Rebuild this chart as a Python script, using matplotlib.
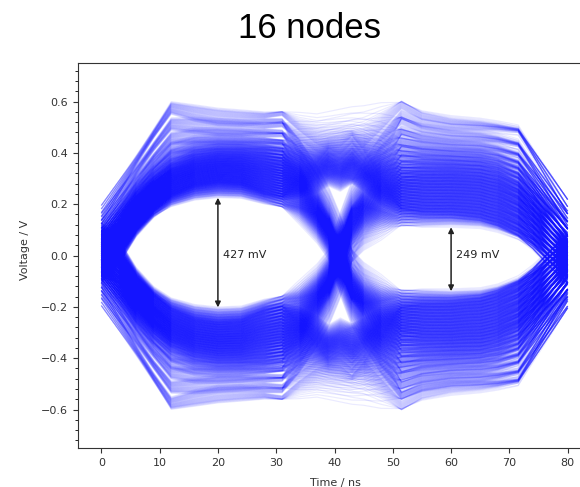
import numpy as np
import matplotlib
matplotlib.use("Agg")
import matplotlib.pyplot as plt
from matplotlib.collections import LineCollection
from matplotlib.ticker import AutoMinorLocator, MultipleLocator

# Sample times (ns) shared by every trace
t_knots = [0, 3, 6, 9, 12, 16, 20, 24, 28, 31, 34, 37, 39, 41, 43, 45, 48,
           51.5, 55, 60, 65, 68, 71.5, 74, 77, 80]

# Response to a "1" in the first bit slot: weak, typical and strong node (V)
slot1_inner = [-0.07, -0.01, 0.093, 0.165, 0.215, 0.248, 0.26, 0.255, 0.225,
               0.21, 0.208, 0.205, 0.2, 0.12, 0.06, 0.035, 0.015, 0.005,
               0, 0, 0, 0, 0, 0, 0, 0]
slot1_mid = [0.05, 0.14, 0.23, 0.3, 0.355, 0.388, 0.4, 0.4, 0.395, 0.385,
             0.35, 0.29, 0.245, 0.195, 0.15, 0.11, 0.065, 0.035, 0.025, 0.02,
             0.015, 0.01, 0.005, 0, 0, 0]
slot1_outer = [0.16, 0.265, 0.37, 0.475, 0.575, 0.555, 0.54, 0.535, 0.535,
               0.54, 0.47, 0.395, 0.345, 0.295, 0.245, 0.195, 0.12, 0.03,
               0.035, 0.035, 0.03, 0.025, 0.02, 0.015, 0.01, 0.0]

# Response to a "1" in the second bit slot
slot2_inner = [0, 0, 0, 0, 0, 0, 0, 0, 0, 0.005, 0.015, 0.04, 0.07, 0.13,
               0.22, 0.215, 0.18, 0.15, 0.145, 0.145, 0.135, 0.115, 0.08,
               0.04, -0.02, -0.07]
slot2_mid = [0, 0, 0.005, 0.01, 0.015, 0.02, 0.022, 0.02, 0.015, 0.02, 0.045,
             0.1, 0.145, 0.195, 0.24, 0.275, 0.31, 0.33, 0.335, 0.335, 0.33,
             0.315, 0.28, 0.22, 0.14, 0.06]
slot2_outer = [0, 0, 0.008, 0.015, 0.025, 0.033, 0.035, 0.033, 0.025, 0.02,
               0.09, 0.16, 0.22, 0.28, 0.34, 0.395, 0.485, 0.58, 0.54, 0.52,
               0.515, 0.51, 0.5, 0.41, 0.3, 0.19]

# Residue of the previous bit and lead-in of the next one
prev_tail = [1.0, 0.7, 0.4, 0.15] + [0] * 22
next_head = [0] * 22 + [0.1, 0.35, 0.7, 1.0]
isi_levels = [-0.035, -0.021, -0.007, 0.007, 0.021, 0.035]

# Bit levels at the sampling instants (V): 20 ns for slot 1, 60 ns for slot 2
eye1_high = [0.26, 0.268, 0.276, 0.284, 0.292, 0.3, 0.308, 0.316, 0.324,
             0.332, 0.34, 0.348, 0.356, 0.364, 0.372, 0.381, 0.39, 0.4,
             0.411, 0.424, 0.44, 0.465, 0.5, 0.54]
eye1_low = [-0.235, -0.245, -0.255, -0.265, -0.275, -0.285, -0.294, -0.303,
            -0.312, -0.321, -0.33, -0.339, -0.348, -0.357, -0.366, -0.376,
            -0.386, -0.397, -0.409, -0.423, -0.44, -0.465, -0.5, -0.54]
eye2_high = [0.145, 0.157, 0.169, 0.181, 0.193, 0.205, 0.217, 0.229, 0.241,
             0.253, 0.265, 0.277, 0.289, 0.301, 0.313, 0.326, 0.339, 0.353,
             0.368, 0.385, 0.405, 0.43, 0.465, 0.51]
eye2_low = [-0.165, -0.177, -0.189, -0.201, -0.213, -0.225, -0.237, -0.249,
            -0.261, -0.273, -0.285, -0.297, -0.309, -0.321, -0.333, -0.346,
            -0.359, -0.373, -0.388, -0.405, -0.425, -0.45, -0.48, -0.51]

# Measured eye openings (V)
eye1_top, eye1_height = 0.225, 0.427
eye2_top, eye2_height = 0.11, 0.249

t = np.array(t_knots)
tail, head = np.array(prev_tail), np.array(next_head)
slot1 = [np.array(a) for a in (slot1_inner, slot1_mid, slot1_outer)]
slot2 = [np.array(a) for a in (slot2_inner, slot2_mid, slot2_outer)]
i20, i60 = t_knots.index(20), t_knots.index(60)


def bit_response(level, shapes, idx):
    """Signed response whose height at the sampling knot equals level."""
    inner, mid, outer = shapes
    a = abs(level)
    lo, hi = (inner, mid) if a <= mid[idx] else (mid, outer)
    s = (a - lo[idx]) / (hi[idx] - lo[idx])
    return np.sign(level) * (lo + s * (hi - lo))


first = [bit_response(v, slot1, i20) for v in eye1_high + eye1_low]
second = [bit_response(v, slot2, i60) for v in eye2_high + eye2_low]
n_isi = len(isi_levels)

segments = []
for i, a in enumerate(first):
    for j, b in enumerate(second):
        y = a + b
        y = y + isi_levels[(i + j) % n_isi] * tail
        y = y + isi_levels[(2 * i + j) % n_isi] * head
        segments.append(np.column_stack([t, y]))

fig = plt.figure(figsize=(5.8, 4.87), dpi=100)
ax = fig.add_axes([78 / 580, 39 / 487, 513 / 580, 385 / 487])

lc = LineCollection(segments, colors=[(0.08, 0.08, 1.0, 0.085)],
                    linewidths=0.85)
ax.add_collection(lc)

ax.set_xlim(-4, 84)
ax.set_ylim(-0.75, 0.75)
ax.xaxis.set_major_locator(MultipleLocator(10))
ax.yaxis.set_major_locator(MultipleLocator(0.2))
ax.yaxis.set_minor_locator(AutoMinorLocator(5))
ax.tick_params(labelsize=8, colors="#333333")
for sp in ax.spines.values():
    sp.set_color("#333333")

# eye opening markers
arrow = dict(arrowstyle="<|-|>", color="#222222", lw=1.1, mutation_scale=8,
             shrinkA=0, shrinkB=0)
for x, top, height in [(20, eye1_top, eye1_height), (60, eye2_top, eye2_height)]:
    ax.annotate("", xy=(x, top), xytext=(x, top - height), arrowprops=arrow)
    ax.text(x + 0.9, 0.0, f"{height * 1000:.0f} mV", fontsize=8,
            color="#222222", ha="left", va="center")

fig.text(309 / 580, 1 - 38 / 487, "16 nodes", fontsize=25,
         family="Liberation Sans", ha="center", va="baseline")
fig.text(25 / 580, 1 - 250 / 487, "Voltage / V", fontsize=8, color="#333333",
         rotation=90, ha="center", va="center")
fig.text(335 / 580, 1 - 486 / 487, "Time / ns", fontsize=8, color="#333333",
         ha="center", va="baseline")

fig.savefig("out.png", dpi=100)
